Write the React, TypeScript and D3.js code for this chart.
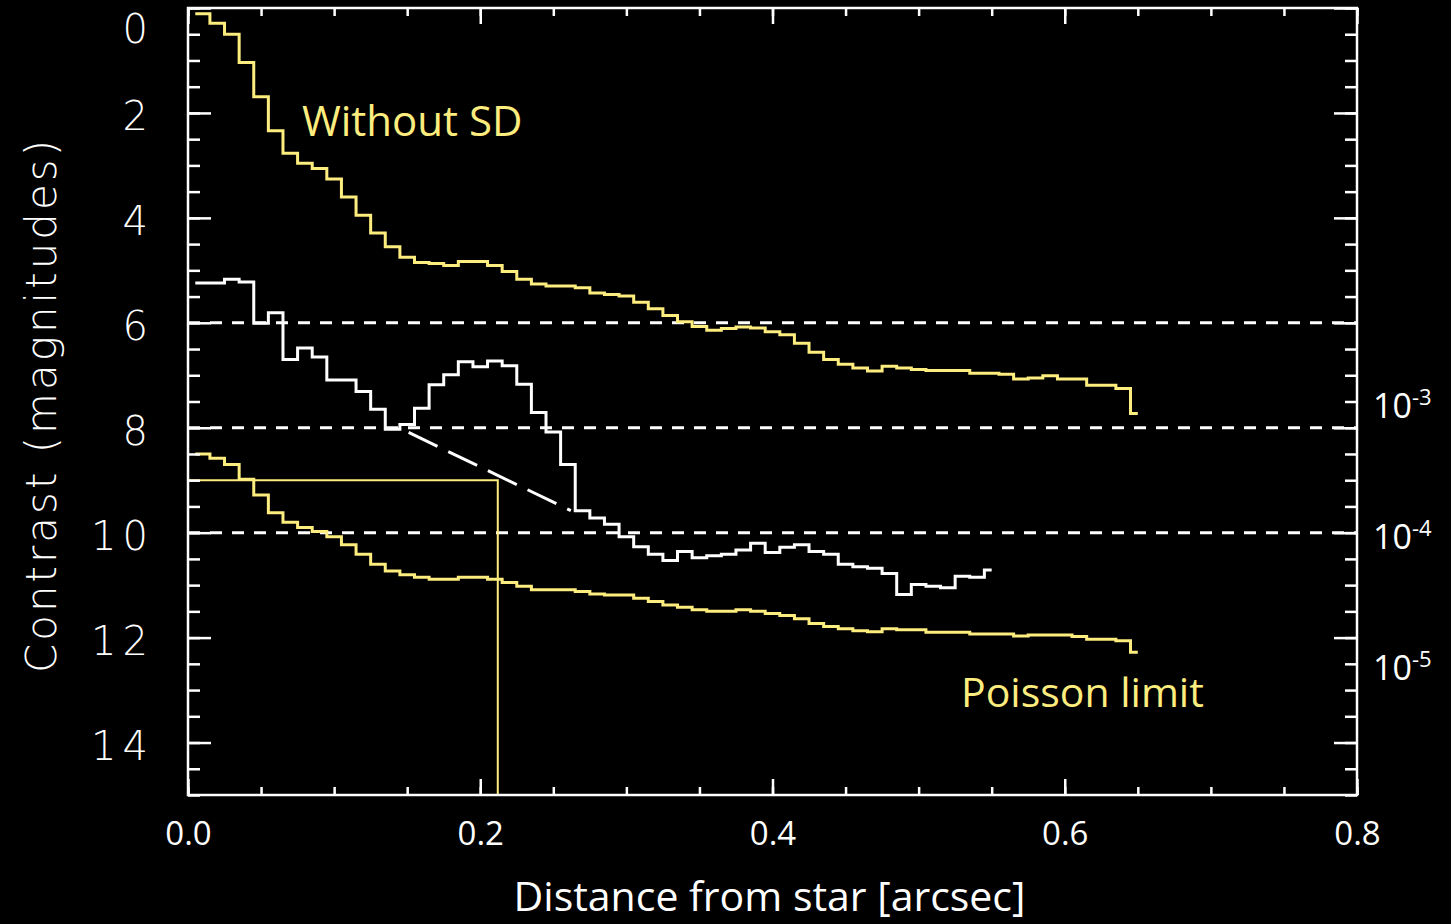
import React, { useEffect, useRef } from 'react';
import * as d3 from 'd3';

const W = 1451;
const H = 924;

// radial bins are 0.01" wide, first bin centred on 0.01"
const BIN = 0.01;

// contrast (mag) per bin
const withoutSD = [
  0.11, 0.29, 0.5, 1.04, 1.69, 2.34, 2.77, 2.96, 3.06, 3.26,
  3.6, 3.95, 4.29, 4.55, 4.75, 4.85, 4.87, 4.91, 4.83, 4.83,
  4.91, 5.02, 5.17, 5.26, 5.3, 5.3, 5.33, 5.43, 5.46, 5.49,
  5.61, 5.73, 5.86, 5.98, 6.07, 6.14, 6.11, 6.08, 6.1, 6.17,
  6.23, 6.39, 6.56, 6.7, 6.79, 6.86, 6.92, 6.83, 6.86, 6.89,
  6.91, 6.91, 6.91, 6.96, 6.96, 6.98, 7.07, 7.05, 7.01, 7.07,
  7.07, 7.19, 7.19, 7.25, 7.73,
];

const withSD = [
  5.24, 5.24, 5.17, 5.22, 6.01, 5.81, 6.7, 6.48, 6.65, 7.09,
  7.09, 7.31, 7.65, 8.03, 7.94, 7.63, 7.18, 6.99, 6.74, 6.84,
  6.73, 6.82, 7.17, 7.71, 8.08, 8.7, 9.58, 9.72, 9.84, 10.08,
  10.27, 10.41, 10.53, 10.36, 10.48, 10.44, 10.41, 10.33, 10.2, 10.38,
  10.28, 10.23, 10.36, 10.41, 10.6, 10.65, 10.68, 10.78, 11.18, 10.99,
  11.02, 11.05, 10.83, 10.85, 10.71,
];

const poissonLimit = [
  8.5, 8.58, 8.7, 8.98, 9.28, 9.62, 9.8, 9.9, 9.98, 10.08,
  10.23, 10.41, 10.6, 10.73, 10.8, 10.85, 10.89, 10.89, 10.85, 10.85,
  10.89, 10.95, 11.02, 11.09, 11.09, 11.09, 11.12, 11.17, 11.19, 11.19,
  11.25, 11.31, 11.38, 11.42, 11.47, 11.5, 11.5, 11.47, 11.5, 11.54,
  11.58, 11.64, 11.73, 11.79, 11.83, 11.87, 11.89, 11.83, 11.85, 11.85,
  11.9, 11.9, 11.9, 11.93, 11.93, 11.93, 11.97, 11.95, 11.95, 11.95,
  11.98, 12.03, 12.03, 12.06, 12.28,
];

// dashed extrapolation under the bump, [arcsec, mag]
const extrapolation: [number, number][] = [[0.151, 8.09], [0.262, 9.58]];
// thin marker box corner, [arcsec, mag]
const boxCorner: [number, number] = [0.212, 9.0];

const xTicks = [0, 0.2, 0.4, 0.6, 0.8];
const yTicks = [0, 2, 4, 6, 8, 10, 12, 14];
const dashedLevels = [6, 8, 10];
const contrastExponents = [-3, -4, -5];

const YELLOW = '#fdec7e';

const App: React.FC = () => {
  const svgRef = useRef<SVGSVGElement>(null);

  useEffect(() => {
    if (!svgRef.current) return;
    const margin = { top: 8, right: 94, bottom: 129, left: 188 };
    const width = W - margin.left - margin.right;
    const height = H - margin.top - margin.bottom;

    const svg = d3.select(svgRef.current);
    svg.selectAll('*').remove();

    const g = svg.append('g').attr('transform', `translate(${margin.left},${margin.top})`);

    const x = d3.scaleLinear().domain([0, 0.8]).range([0, width]);
    const y = d3.scaleLinear().domain([0, 15]).range([0, height]);

    // dotted reference levels
    g.selectAll('.level')
      .data(dashedLevels)
      .enter().append('line')
      .attr('x1', 0).attr('x2', width)
      .attr('y1', d => y(d)).attr('y2', d => y(d))
      .attr('stroke', 'white')
      .attr('stroke-width', 3)
      .attr('stroke-dasharray', '12,10');

    // thin box marking the Poisson limit at ~0.21"
    g.append('path')
      .attr('d', `M${x(0)},${y(boxCorner[1])}H${x(boxCorner[0])}V${height}`)
      .attr('fill', 'none')
      .attr('stroke', YELLOW)
      .attr('stroke-width', 2);

    const line = d3.line<[number, number]>()
      .x(d => x(d[0]))
      .y(d => y(d[1]))
      .curve(d3.curveStep);

    const toSteps = (vals: number[]): [number, number][] => {
      const pts = vals.map((v, i) => [BIN * (i + 1), v] as [number, number]);
      return [[pts[0][0] - BIN / 2, vals[0]], ...pts];
    };

    const curves = [
      { data: withoutSD, color: YELLOW },
      { data: poissonLimit, color: YELLOW },
      { data: withSD, color: 'white' },
    ];

    g.selectAll('.curve')
      .data(curves)
      .enter().append('path')
      .attr('d', d => line(toSteps(d.data)))
      .attr('fill', 'none')
      .attr('stroke', d => d.color)
      .attr('stroke-width', 3)
      .attr('stroke-linejoin', 'miter');

    // long-dash extrapolation
    g.append('path')
      .attr('d', d3.line<[number, number]>().x(d => x(d[0])).y(d => y(d[1]))(extrapolation))
      .attr('fill', 'none')
      .attr('stroke', 'white')
      .attr('stroke-width', 3)
      .attr('stroke-dasharray', '32,12');

    // Axes (IDL style: ticks inward on all four sides)
    const styleAxis = (sel: d3.Selection<SVGGElement, unknown, null, undefined>) => {
      sel.select('.domain').remove();
      sel.attr('color', 'white');
      sel.selectAll('line').attr('stroke-width', 2.5);
    };

    const xMinor = d3.range(0, 0.8001, 0.05);
    const yMinor = d3.range(0, 15.001, 0.5);

    const bottom = g.append('g').attr('transform', `translate(0,${height})`);
    bottom.call(d3.axisBottom(x).tickValues(xMinor).tickSizeInner(-8).tickSizeOuter(0).tickFormat(() => ''));
    styleAxis(bottom);
    const bottomMajor = g.append('g').attr('transform', `translate(0,${height})`);
    bottomMajor.call(d3.axisBottom(x).tickValues(xTicks).tickSizeInner(-16).tickSizeOuter(0)
      .tickPadding(27).tickFormat(d => d3.format('.1f')(d as number)));
    styleAxis(bottomMajor);
    bottomMajor.attr('font-family', '"Open Sans", sans-serif').attr('font-size', 33);
    bottomMajor.selectAll('text').attr('fill', 'white');

    const top = g.append('g');
    top.call(d3.axisTop(x).tickValues(xMinor).tickSizeInner(-8).tickSizeOuter(0).tickFormat(() => ''));
    styleAxis(top);
    const topMajor = g.append('g');
    topMajor.call(d3.axisTop(x).tickValues(xTicks).tickSizeInner(-16).tickSizeOuter(0).tickFormat(() => ''));
    styleAxis(topMajor);

    const left = g.append('g');
    left.call(d3.axisLeft(y).tickValues(yMinor).tickSizeInner(-12).tickSizeOuter(0).tickFormat(() => ''));
    styleAxis(left);
    const leftMajor = g.append('g');
    leftMajor.call(d3.axisLeft(y).tickValues(yTicks).tickSizeInner(-23).tickSizeOuter(0).tickPadding(34)
      .tickFormat(d => String(d)));
    styleAxis(leftMajor);
    leftMajor.attr('font-family', '"DejaVu Sans", sans-serif').attr('font-size', 40).attr('font-weight', 200);
    leftMajor.selectAll<SVGTextElement, number>('text')
      .attr('fill', 'white')
      .attr('letter-spacing', 6)
      .attr('dy', d => (d === 0 ? '0.85em' : '0.42em'));

    const right = g.append('g').attr('transform', `translate(${width},0)`);
    right.call(d3.axisRight(y).tickValues(yMinor).tickSizeInner(-12).tickSizeOuter(0).tickFormat(() => ''));
    styleAxis(right);
    const rightMajor = g.append('g').attr('transform', `translate(${width},0)`);
    rightMajor.call(d3.axisRight(y).tickValues(yTicks).tickSizeInner(-23).tickSizeOuter(0).tickFormat(() => ''));
    styleAxis(rightMajor);

    // frame
    g.append('rect')
      .attr('x', 0).attr('y', 0)
      .attr('width', width).attr('height', height)
      .attr('fill', 'none')
      .attr('stroke', 'white')
      .attr('stroke-width', 2.5);

    // contrast labels on the right: mag = -2.5 log10(c)
    const ratio = svg.append('g')
      .attr('font-family', '"Open Sans", sans-serif')
      .attr('fill', 'white');
    contrastExponents.forEach(e => {
      const t = ratio.append('text')
        .attr('x', margin.left + width + 16)
        .attr('y', margin.top + y(-2.5 * e) + 16)
        .attr('font-size', 34);
      t.append('tspan').text('10');
      t.append('tspan').attr('font-size', 22).attr('dy', -13).text(String(e));
    });

    // curve labels
    svg.append('text')
      .attr('x', margin.left + x(0.078))
      .attr('y', margin.top + y(2.44))
      .attr('fill', YELLOW)
      .attr('font-family', '"Open Sans", sans-serif')
      .attr('font-size', 42)
      .text('Without SD');

    svg.append('text')
      .attr('x', margin.left + x(0.529))
      .attr('y', margin.top + y(13.32))
      .attr('fill', YELLOW)
      .attr('font-family', '"Open Sans", sans-serif')
      .attr('font-size', 41)
      .text('Poisson limit');

    // axis titles
    svg.append('text')
      .attr('x', margin.left + width / 2 - 3)
      .attr('y', 911)
      .attr('text-anchor', 'middle')
      .attr('fill', 'white')
      .attr('font-family', '"Open Sans", sans-serif')
      .attr('font-size', 41)
      .text('Distance from star [arcsec]');

    svg.append('text')
      .attr('transform', `translate(56,405) rotate(-90)`)
      .attr('text-anchor', 'middle')
      .attr('fill', 'white')
      .attr('font-family', '"DejaVu Sans", sans-serif')
      .attr('font-weight', 200)
      .attr('font-size', 42)
      .attr('letter-spacing', 3)
      .text('Contrast (magnitudes)');
  }, []);

  return (
    <svg
      ref={svgRef}
      width={W}
      height={H}
      style={{ position: 'absolute', left: 0, top: 0, background: 'black', display: 'block' }}
    />
  );
};

export default App;
